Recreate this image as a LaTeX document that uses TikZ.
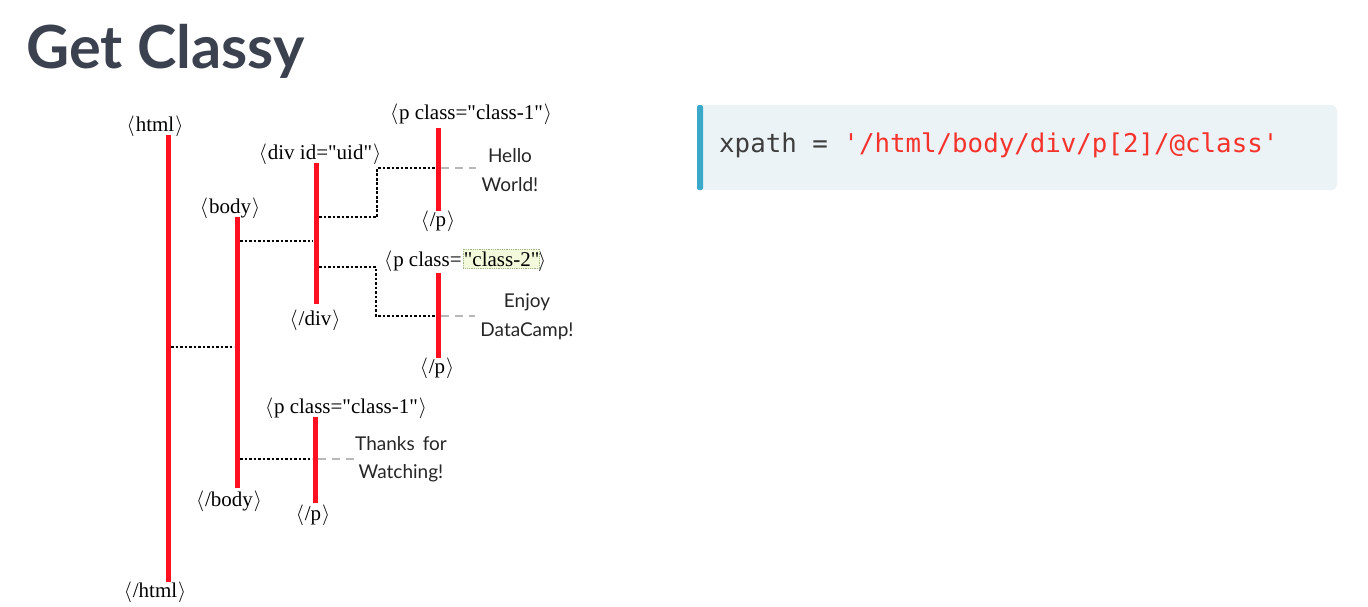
\documentclass[tikz,border=0pt]{standalone}
\usepackage{fontspec}
\newfontfamily\headfont{Lato}
\newfontfamily\notefont{Lato}
\newfontfamily\tagfont{Liberation Serif}
\newfontfamily\codefont{DejaVu Sans Mono}
\definecolor{tagred}{HTML}{FF1020}
\definecolor{headgray}{HTML}{3C4150}
\definecolor{codebg}{HTML}{EBF3F6}
\definecolor{codebar}{HTML}{3AA8C9}
\definecolor{codeink}{HTML}{3D3D3D}
\definecolor{codestr}{HTML}{F5332D}
\definecolor{hlfill}{HTML}{F2FADB}
\definecolor{hlline}{HTML}{9FB58A}
\newcommand{\lt}{$\langle$\kern1pt}
\newcommand{\gt}{\kern1pt$\rangle$}
\newcommand{\qq}{\textquotedbl}
\tikzset{
  tag/.style={font=\tagfont\fontsize{21}{24}\selectfont, inner sep=0pt, anchor=base, text=black},
  textnote/.style={font=\notefont\fontsize{19}{22}\selectfont, inner sep=0pt, anchor=base, text=black!85},
  span/.style={draw=tagred, line width=5pt},
  link/.style={draw=black, line width=2.8pt, dash pattern=on 2.6pt off 1.9pt},
  leaf/.style={draw=black!28, line width=2.6pt, dash pattern=on 8pt off 6pt},
}
\begin{document}
\begin{tikzpicture}[x=1pt,y=-1pt]
\useasboundingbox (0,0) rectangle (1368,606);
\fill[white] (0,0) rectangle (1368,606);

% heading
\node[font=\headfont\bfseries\fontsize{59.5}{70}\selectfont, text=headgray, anchor=base west, inner sep=0pt] (title) at (26,68) {Get Classy};

% code box
\fill[codebg, rounded corners=6pt] (697,105) rectangle (1337,190);
\fill[codebar, rounded corners=2pt] (697,105) rectangle (703,190);
\node[font=\codefont\fontsize{25.8}{30}\selectfont, anchor=base west, inner sep=0pt, text=codeink] (code) at (719,152)
  {xpath = \textcolor{codestr}{'/html/body/div/p[2]/@class'}};

% tag labels
\node[tag] (html) at (155,131) {\lt html\gt};
\node[tag] (htmlend) at (155,597) {\lt/html\gt};
\node[tag] (body) at (230,213) {\lt body\gt};
\node[tag] (bodyend) at (229,506) {\lt/body\gt};
\node[tag] (div) at (320,159) {\lt div id=\qq uid\qq\gt};
\node[tag] (divend) at (315,325) {\lt/div\gt};
\node[tag] (pa) at (471,119) {\lt p class=\qq class-1\qq\gt};
\node[tag] (paend) at (438,226) {\lt/p\gt};
\node[tag, anchor=base west] (pb) at (384,266) {\lt p class=\phantom{\qq class-2\qq}\gt};
\node[tag] (pbend) at (437,373) {\lt/p\gt};
\node[tag] (pc) at (346,413) {\lt p class=\qq class-1\qq\gt};
\node[tag] (pcend) at (313,520) {\lt/p\gt};

% highlighted attribute value
\node[tag, anchor=base west, fill=hlfill, draw=hlline, densely dotted, line width=0.8pt,
      inner xsep=0.5pt, inner ysep=2.5pt] (hl) at (463,266) {\qq class-2\qq};

% element spans
\draw[span] (168,135) -- (168,582);
\draw[span] (237,217) -- (237,488);
\draw[span] (316,163) -- (316,304);
\draw[span] (438,128) -- (438,211);
\draw[span] (438,273) -- (438,358);
\draw[span] (315,417) -- (315,503);

% text leaves
\node[textnote] (hello) at (510,162) {Hello};
\node[textnote] (world) at (510,191) {World!};
\node[textnote] (enjoy) at (527,307) {Enjoy};
\node[textnote] (dc) at (527,336) {DataCamp!};
\node[textnote] (thanks) at (401,450) {Thanks\, for};
\node[textnote] (watch) at (401,478) {Watching!};

\coordinate (helloL) at (476,168);
\coordinate (enjoyL) at (475,316);
\coordinate (thanksL) at (355,459);

% parent-child links
\draw[link] (171,347) -- (234,347);
\draw[link] (240,241) -- (313,241);
\draw[link] (319,217) -- (377,217) -- (377,168) -- (436,168);
\draw[link] (319,267) -- (376,267) -- (376,316) -- (436,316);
\draw[link] (240,459) -- (312,459);

% text leaf links
\draw[leaf] (441,168) -- (helloL);
\draw[leaf] (441,316) -- (enjoyL);
\draw[leaf] (318,459) -- (thanksL);
\end{tikzpicture}
\end{document}
